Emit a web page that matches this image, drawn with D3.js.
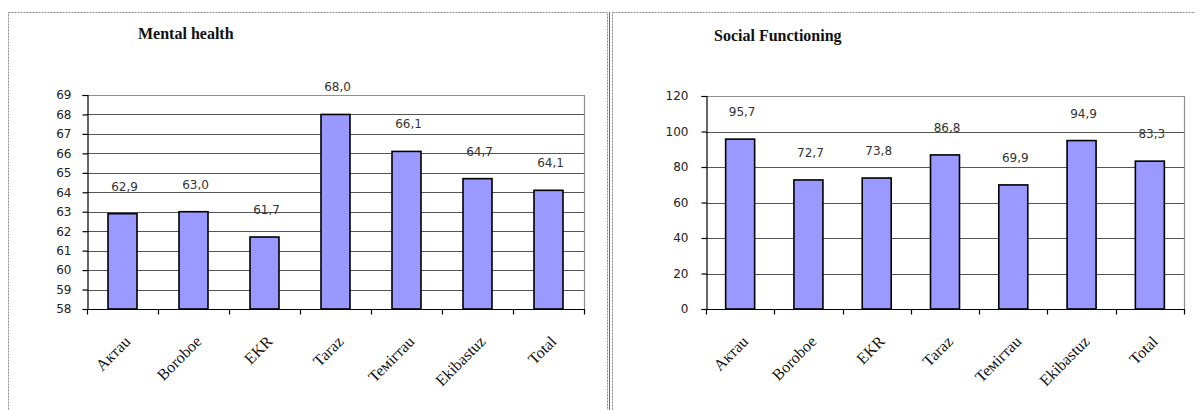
<!DOCTYPE html>
<html>
<head>
<meta charset="utf-8">
<script src="https://cdn.jsdelivr.net/npm/d3@7"></script>
<style>
  html, body { margin: 0; padding: 0; background: #fff; }
  svg { display: block; }
</style>
</head>
<body>
<svg id="chart" width="1195" height="410"></svg>
<script>
// Survey sites (shared by both panels)
const categories = ["Aктau", "Boroboe", "EKR", "Taraz", "Teмirтau", "Ekibastuz", "Total"];

// Mental health scores
const mentalValues = [62.9, 63.0, 61.7, 68.0, 66.1, 64.7, 64.1];
const mentalTicks = [58, 59, 60, 61, 62, 63, 64, 65, 66, 67, 68, 69];

// Social functioning scores
const socialValues = [95.7, 72.7, 73.8, 86.8, 69.9, 94.9, 83.3];
const socialTicks = [0, 20, 40, 60, 80, 100, 120];

const svg = d3.select("#chart");

// Panel frames
svg.append("rect")
  .attr("x", 8.5).attr("y", 12.5).attr("width", 599).attr("height", 420)
  .attr("fill", "none").attr("stroke", "#8a8a8a").attr("stroke-dasharray", "2,1");
svg.append("line")
  .attr("x1", 609.5).attr("x2", 609.5).attr("y1", 12).attr("y2", 410)
  .attr("stroke", "#666");
svg.append("rect")
  .attr("x", 612.5).attr("y", 12.5).attr("width", 620).attr("height", 420)
  .attr("fill", "none").attr("stroke", "#8a8a8a").attr("stroke-dasharray", "2,1");

function drawPanel(opts) {
  const { title, titleX, titleY, values, ticks, x0, x1, y0, y1, pad } = opts;
  const g = svg.append("g");

  const x = d3.scaleBand().domain(categories).range([x0, x1]);
  const y = d3.scaleLinear().domain([ticks[0], ticks[ticks.length - 1]]).range([y0, y1]);

  // Title
  g.append("text")
    .attr("x", titleX).attr("y", titleY)
    .attr("font-family", "'Liberation Serif', 'Times New Roman', serif")
    .attr("font-weight", "bold").attr("font-size", 16)
    .attr("fill", "#111")
    .text(title);

  // Horizontal gridlines
  g.selectAll(".grid").data(ticks.slice(1)).join("line")
    .attr("x1", x0).attr("x2", x1)
    .attr("y1", d => Math.round(y(d)) + 0.5).attr("y2", d => Math.round(y(d)) + 0.5)
    .attr("stroke", d => d === ticks[ticks.length - 1] ? "#909090" : "#555")
    .attr("stroke-width", 1.2);

  // Right plot border
  g.append("line")
    .attr("x1", x1 + 0.5).attr("x2", x1 + 0.5)
    .attr("y1", y(ticks[ticks.length - 1])).attr("y2", y0)
    .attr("stroke", "#909090").attr("stroke-width", 1.2);

  // Y axis
  const yAxis = d3.axisLeft(y).tickValues(ticks).tickSize(5).tickPadding(pad)
    .tickFormat(d3.format("d"));
  const ya = g.append("g").attr("transform", `translate(${x0 + 0.5},0)`).call(yAxis);
  ya.select(".domain").attr("stroke", "#000").attr("stroke-width", 1.2);
  ya.selectAll(".tick line").attr("stroke", "#000").attr("stroke-width", 1.2);
  ya.selectAll(".tick text")
    .attr("font-family", "'DejaVu Sans', Verdana, sans-serif")
    .attr("font-size", 12).attr("fill", "#222");

  // X axis with tick marks at band boundaries
  const xa = g.append("g").attr("transform", `translate(0,${y0 + 0.5})`);
  xa.append("line").attr("x1", x0).attr("x2", x1 + 1)
    .attr("stroke", "#000").attr("stroke-width", 1.2);
  const bounds = categories.map(c => x(c)).concat([x1]);
  xa.selectAll(".xt").data(bounds).join("line")
    .attr("x1", d => Math.round(d) + 0.5).attr("x2", d => Math.round(d) + 0.5)
    .attr("y1", 0).attr("y2", 5)
    .attr("stroke", "#000").attr("stroke-width", 1.2);
  xa.selectAll(".xl").data(categories).join("text")
    .attr("transform", d => `translate(${x(d) + x.bandwidth() / 2 + 9},${33}) rotate(-45)`)
    .attr("text-anchor", "end")
    .attr("font-family", "'Liberation Serif', 'Times New Roman', serif")
    .attr("font-size", 16).attr("fill", "#111")
    .text(d => d);

  // Bars
  const bw = 29;
  g.selectAll(".bar").data(values).join("rect")
    .attr("x", (d, i) => x(categories[i]) + x.bandwidth() / 2 - bw / 2)
    .attr("y", d => y(d))
    .attr("width", bw)
    .attr("height", d => y0 - y(d))
    .attr("fill", "#9999ff").attr("stroke", "#000").attr("stroke-width", 1.6);

  // Value labels
  g.selectAll(".val").data(values).join("text")
    .attr("x", (d, i) => x(categories[i]) + x.bandwidth() / 2 + 2)
    .attr("y", d => y(d) - 23)
    .attr("text-anchor", "middle")
    .attr("font-family", "'DejaVu Sans', Verdana, sans-serif")
    .attr("font-size", 12).attr("fill", "#333")
    .text(d => d.toFixed(1).replace(".", ","));
}

drawPanel({
  title: "Mental health", titleX: 138, titleY: 39,
  values: mentalValues, ticks: mentalTicks,
  x0: 87, x1: 584, y0: 309, y1: 95, pad: 11
});

drawPanel({
  title: "Social Functioning", titleX: 714, titleY: 41,
  values: socialValues, ticks: socialTicks,
  x0: 706, x1: 1184, y0: 309, y1: 96, pad: 13
});
</script>
</body>
</html>
